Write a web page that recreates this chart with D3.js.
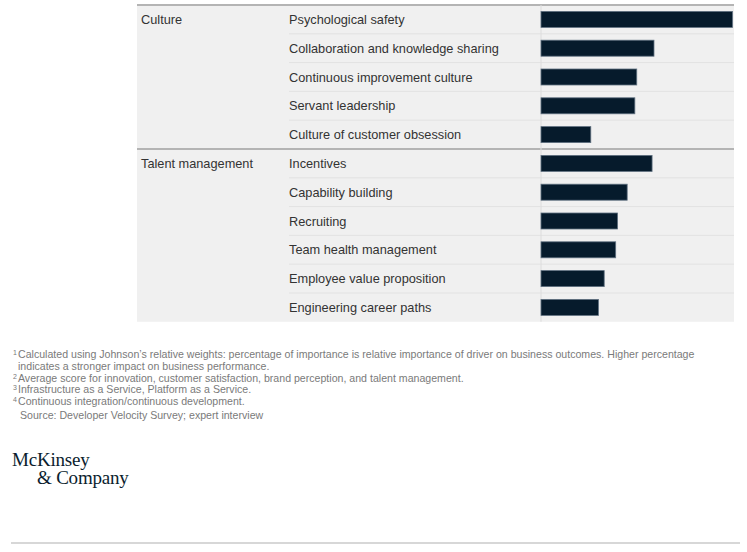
<!DOCTYPE html>
<html>
<head>
<meta charset="utf-8">
<script src="https://cdn.jsdelivr.net/npm/d3@7"></script>
<style>
  body { margin: 0; background: #fff; }
  svg { display: block; font-family: "Liberation Sans", Arial, sans-serif; }
</style>
</head>
<body>
<div id="chart"></div>
<script>
// データ
var groups = ["Culture", "Talent management"];
var items = [
  "Psychological safety", "Collaboration and knowledge sharing", "Continuous improvement culture",
  "Servant leadership", "Culture of customer obsession",
  "Incentives", "Capability building", "Recruiting", "Team health management",
  "Employee value proposition", "Engineering career paths"
];
var itemGroup = [0,0,0,0,0,1,1,1,1,1,1];
var values = [10.0, 5.9, 5.0, 4.9, 2.6, 5.8, 4.5, 4.0, 3.9, 3.3, 3.0];

var footnotes = [
  ["1", "Calculated using Johnson’s relative weights: percentage of importance is relative importance of driver on business outcomes. Higher percentage"],
  ["", "indicates a stronger impact on business performance."],
  ["2", "Average score for innovation, customer satisfaction, brand perception, and talent management."],
  ["3", "Infrastructure as a Service, Platform as a Service."],
  ["4", "Continuous integration/continuous development."]
];
var source = "Source: Developer Velocity Survey; expert interview";

// 描画
var W = 747, H = 552;
var svg = d3.select("#chart").append("svg").attr("width", W).attr("height", H);

var panel = {x0: 137, x1: 734, y0: 5, rowH: 28.8};
var y = d3.scaleBand().domain(d3.range(items.length))
  .range([panel.y0, panel.y0 + panel.rowH * items.length]).paddingInner(0).paddingOuter(0);
var x = d3.scaleLinear().domain([0, 10]).range([541, 732.5]);

svg.append("rect")
  .attr("x", panel.x0).attr("y", panel.y0)
  .attr("width", panel.x1 - panel.x0).attr("height", y.range()[1] - panel.y0)
  .attr("fill", "#f0f0f0");

// 行の区切り線
svg.selectAll("line.sep").data(d3.range(1, items.length)).enter()
  .append("line")
  .attr("class", "sep")
  .attr("x1", function(i){ return itemGroup[i] != itemGroup[i-1] ? panel.x0 : 289; })
  .attr("x2", panel.x1)
  .attr("y1", function(i){ return y(i); })
  .attr("y2", function(i){ return y(i); })
  .attr("stroke", function(i){ return itemGroup[i] != itemGroup[i-1] ? "#b4b4b4" : "#e2e2e2"; })
  .attr("stroke-width", function(i){ return itemGroup[i] != itemGroup[i-1] ? 2 : 1; });

svg.append("line")
  .attr("x1", panel.x0).attr("x2", panel.x1)
  .attr("y1", panel.y0).attr("y2", panel.y0)
  .attr("stroke", "#b4b4b4").attr("stroke-width", 2);

// 縦線
svg.append("line")
  .attr("x1", x(0)).attr("x2", x(0))
  .attr("y1", panel.y0).attr("y2", y.range()[1])
  .attr("stroke", "#dcdcdc").attr("stroke-width", 1);

// グループ名
svg.selectAll("text.group").data(groups).enter()
  .append("text")
  .attr("class", "group")
  .attr("x", 141)
  .attr("y", function(d, gi){ return y(itemGroup.indexOf(gi)) + y.bandwidth()/2 + 4.5; })
  .attr("font-size", 12.75).attr("fill", "#333")
  .text(function(d){ return d; });

// 項目名
svg.selectAll("text.item").data(items).enter()
  .append("text")
  .attr("class", "item")
  .attr("x", 289)
  .attr("y", function(d, i){ return y(i) + y.bandwidth()/2 + 4.5; })
  .attr("font-size", 12.75).attr("fill", "#333")
  .text(function(d){ return d; });

// バー
svg.selectAll("rect.bar").data(values).enter()
  .append("rect")
  .attr("class", "bar")
  .attr("x", x(0))
  .attr("y", function(d, i){ return y(i) + y.bandwidth()/2 - 8; })
  .attr("width", function(d){ return x(d) - x(0); })
  .attr("height", 16)
  .attr("fill", "#061b2c")
  .attr("stroke", "#5f7080").attr("stroke-width", 0.8);

// 注釈
var fn = svg.append("g").attr("font-size", 10.6).attr("fill", "#7a7a7a");
var fy = 358;
footnotes.forEach(function(f, i){
  var t = fn.append("text").attr("x", 13).attr("y", fy + i * 11.8);
  if (f[0]) t.append("tspan").attr("font-size", 7).attr("dy", -3).text(f[0]);
  t.append("tspan").attr("x", 18).attr("dy", f[0] ? 3 : 0).text(f[1]);
});
fn.append("text").attr("x", 20).attr("y", fy + 5 * 11.8 + 2).text(source);

// ロゴ
var logo = svg.append("g").attr("font-family", "'Liberation Serif', 'Times New Roman', serif")
  .attr("fill", "#0b1d2e").attr("font-size", 19).attr("letter-spacing", -0.2);
logo.append("text").attr("x", 12).attr("y", 466).text("McKinsey");
logo.append("text").attr("x", 37).attr("y", 484).text("& Company");

svg.append("line")
  .attr("x1", 11).attr("x2", 740).attr("y1", 543).attr("y2", 543)
  .attr("stroke", "#b0b0b0").attr("stroke-width", 1.2);
</script>
</body>
</html>
